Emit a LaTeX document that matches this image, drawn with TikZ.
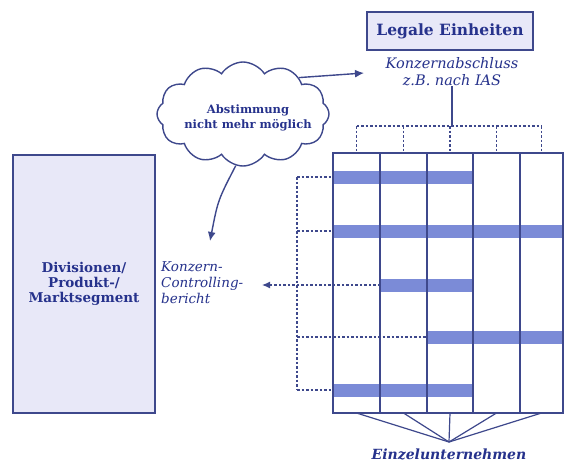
\documentclass[tikz,border=0pt]{standalone}
\usepackage{fontspec}
\setmainfont{DejaVu Serif}
\usetikzlibrary{shapes.symbols,arrows.meta}
\definecolor{lineblue}{RGB}{62,72,140}
\definecolor{barblue}{RGB}{112,130,212}
\definecolor{boxfill}{RGB}{232,232,248}
\definecolor{textblue}{RGB}{38,50,140}
\tikzset{
  box/.style={draw=lineblue, line width=1.8pt, fill=boxfill, text=textblue, font=\bfseries, align=center, inner sep=0pt},
  itext/.style={text=textblue, font=\itshape, inner sep=0pt},
  gridln/.style={draw=lineblue, line width=1.4pt},
  bar/.style={fill=barblue, fill opacity=0.92, draw=none, minimum height=13pt, inner sep=0pt},
  dsh/.style={draw=lineblue, line width=1.2pt, dash pattern=on 2.5pt off 2pt},
  solid ln/.style={draw=lineblue, line width=1.2pt},
  arr/.style={draw=lineblue, line width=1.4pt, -{Latex[length=9pt,width=8pt]}},
}
\begin{document}
\begin{tikzpicture}[x=1pt,y=-1pt]
\useasboundingbox[fill=white] (0,0) rectangle (564,464);
% top box and label
\node[box, minimum width=166pt, minimum height=38pt, font=\bfseries\fontsize{15.5}{17}\selectfont] (legal) at (450,31) {Legale Einheiten};
\node[itext, align=center, font=\itshape\fontsize{14.5}{17}\selectfont] (kab) at (452,72) {Konzernabschluss\\z.B. nach IAS};
% grid
\coordinate (g0) at (333,153);
\coordinate (g5) at (563,413);
% bars (behind grid lines)
\node[bar, minimum width=140pt, anchor=west] (b1) at (333,177) {};
\node[bar, minimum width=233pt, anchor=west] (b2) at (333,231) {};
\node[bar, minimum width=93pt, anchor=west] (b3) at (380,285) {};
\node[bar, minimum width=136pt, anchor=west] (b4) at (427,337) {};
\node[bar, minimum width=140pt, anchor=west] (b5) at (333,390) {};
\draw[gridln] (g0) rectangle (g5);
\foreach \x in {380,427,473,520} \draw[gridln] (\x,153) -- (\x,413);
% top dashed distribution
\foreach \i/\x in {1/356.5,2/403.5,3/450,4/496.5,5/541.5} {
  \coordinate (t\i) at (\x,126);
  \coordinate (u\i) at (\x,153);
  \coordinate (d\i) at (\x,413);
}
\draw[dsh] (t1) -- (t5);
\foreach \i in {1,...,5} \draw[dsh] (t\i) -- (u\i);
\draw[solid ln] (kab.south) -- (kab.south |- t1);
% left dashed collector
\coordinate (v1) at (297,177);
\coordinate (v5) at (297,390);
\draw[dsh] (v1) -- (v5);
\draw[dsh] (v1) -- (b1.west);
\draw[dsh] (v1 |- b2.west) -- (b2.west);
\draw[dsh] (v1 |- b4.west) -- (b4.west);
\draw[dsh] (v5) -- (b5.west);
% bottom fan
\coordinate (apex) at (449,442);
\foreach \i in {1,...,5} \draw[solid ln] (d\i) -- (apex);
\node[itext, font=\bfseries\itshape\fontsize{14}{16}\selectfont] (einz) at (449,454) {Einzelunternehmen};
% left box
\node[box, minimum width=142pt, minimum height=258pt, font=\bfseries\fontsize{13.5}{15}\selectfont] (div) at (84,284) {Divisionen/\\Produkt-/\\Marktsegment};
\node[itext, align=left, anchor=west, font=\itshape\fontsize{13.5}{16}\selectfont] (kcb) at (161,283) {Konzern-\\Controlling-\\bericht};
\coordinate (kcbarr) at (262,285);
\draw[dsh, -{Latex[length=8pt,width=7pt]}] (b3.west) -- (kcbarr);
% cloud
\node[cloud, cloud puffs=12, cloud puff arc=115, aspect=1.65, draw=lineblue, line width=1.4pt, fill=white, minimum width=172pt, minimum height=104pt, inner sep=0pt] (cloud) at (243,114) {};
\node[text=textblue, align=center, font=\bfseries\fontsize{11.5}{15.5}\selectfont, inner sep=0pt] (cloudtxt) at (248,118) {Abstimmung\\nicht mehr möglich};
\coordinate (kabarr) at (364,73);
\draw[arr] (cloud.33) -- (kabarr);
\coordinate (kcbtop) at (210,241);
\draw[arr] (cloud.262) .. controls (218,200) .. (kcbtop);
\end{tikzpicture}
\end{document}
